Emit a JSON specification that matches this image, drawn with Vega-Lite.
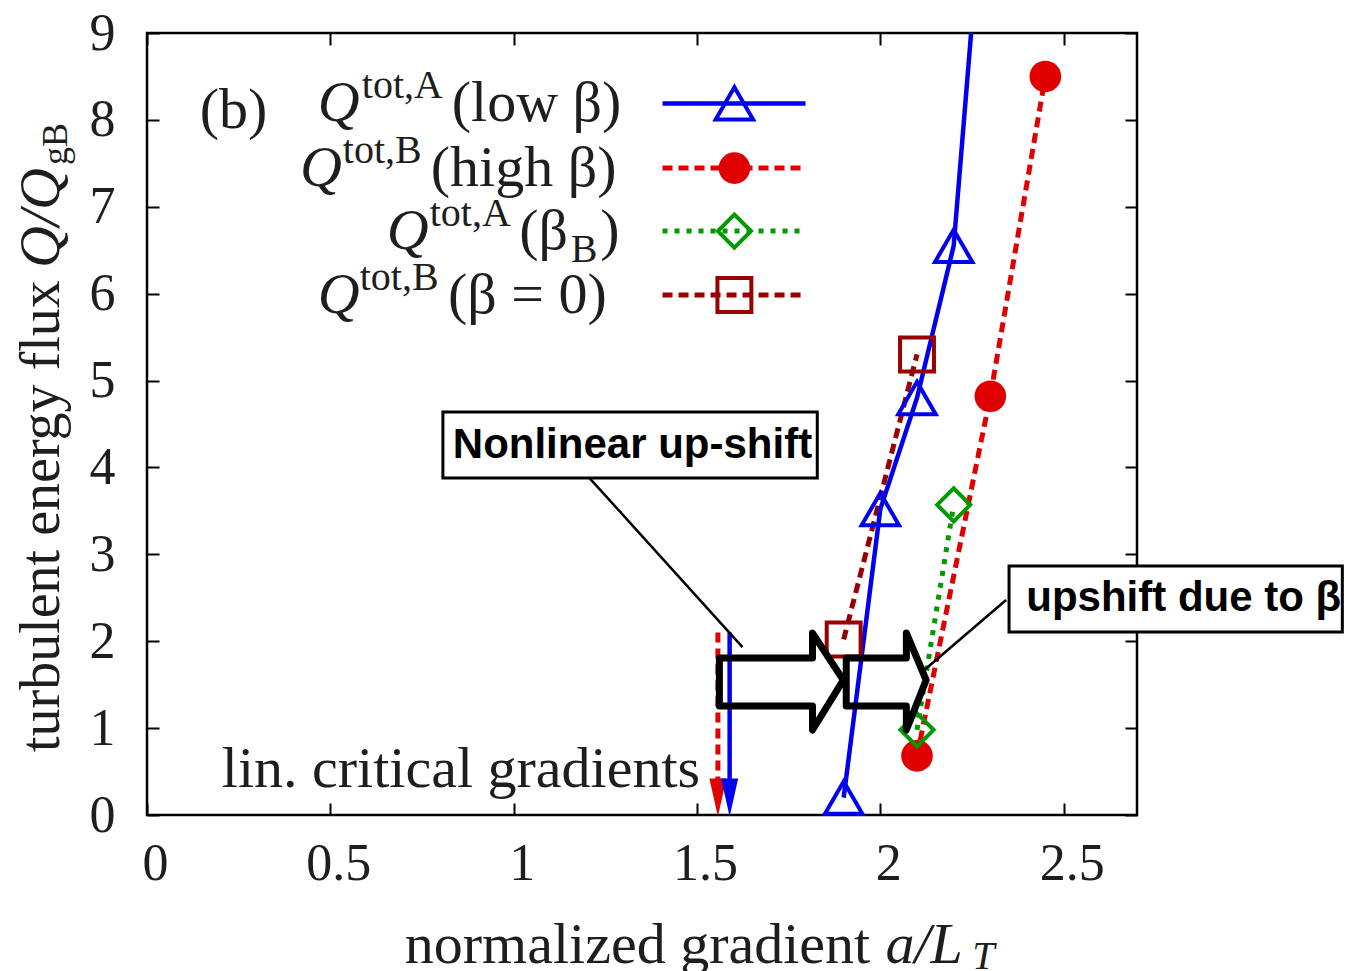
{
  "$schema": "https://vega.github.io/schema/vega-lite/v6.json",
  "width": 990,
  "height": 782,
  "autosize": {"type": "none"},
  "padding": {"left": 147, "top": 33, "right": 209, "bottom": 156},
  "background": "white",
  "config": {
    "view": {"stroke": "black", "strokeWidth": 2.5},
    "axis": {"grid": false, "domain": false, "tickColor": "black", "tickWidth": 2, "tickSize": -12, "labelFont": "Liberation Serif", "labelFontSize": 52, "labelColor": "#1e1e1e", "title": null, "labelFlush": false}
  },
  "datasets": {
    "series": [
      {"s": "A", "g": "data", "x": 1.9, "y": 0.2},
      {"s": "A", "g": "data", "x": 2.0, "y": 3.52},
      {"s": "A", "g": "data", "x": 2.1, "y": 4.8},
      {"s": "A", "g": "data", "x": 2.2, "y": 6.55},
      {"s": "A", "g": "data", "x": 2.3, "y": 11.7},
      {"s": "A", "g": "leg", "x": 1.406, "y": 8.19},
      {"s": "A", "g": "leg", "x": 1.602, "y": 8.19},
      {"s": "A", "g": "leg", "x": 1.796, "y": 8.19},
      {"s": "B", "g": "data", "x": 2.1, "y": 0.68},
      {"s": "B", "g": "data", "x": 2.3, "y": 4.82},
      {"s": "B", "g": "data", "x": 2.45, "y": 8.5},
      {"s": "B", "g": "leg", "x": 1.406, "y": 7.445},
      {"s": "B", "g": "leg", "x": 1.602, "y": 7.445},
      {"s": "B", "g": "leg", "x": 1.796, "y": 7.445},
      {"s": "Ab", "g": "data", "x": 2.1, "y": 0.98},
      {"s": "Ab", "g": "data", "x": 2.2, "y": 3.57},
      {"s": "Ab", "g": "leg", "x": 1.406, "y": 6.72},
      {"s": "Ab", "g": "leg", "x": 1.602, "y": 6.72},
      {"s": "Ab", "g": "leg", "x": 1.796, "y": 6.72},
      {"s": "B0", "g": "data", "x": 1.9, "y": 2.02},
      {"s": "B0", "g": "data", "x": 2.1, "y": 5.3},
      {"s": "B0", "g": "leg", "x": 1.406, "y": 5.984},
      {"s": "B0", "g": "leg", "x": 1.602, "y": 5.984},
      {"s": "B0", "g": "leg", "x": 1.796, "y": 5.984}
    ],
    "crit": [
      {"s": "red", "x": 1.557, "y": 2.1},
      {"s": "red", "x": 1.557, "y": 0.2},
      {"s": "blue", "x": 1.589, "y": 2.1},
      {"s": "blue", "x": 1.589, "y": 0.2}
    ],
    "arrows": [
      {"g": 1, "o": 0, "x": 1.561, "y": 1.807},
      {"g": 1, "o": 1, "x": 1.815, "y": 1.807},
      {"g": 1, "o": 2, "x": 1.815, "y": 2.094},
      {"g": 1, "o": 3, "x": 1.899, "y": 1.553},
      {"g": 1, "o": 4, "x": 1.815, "y": 0.978},
      {"g": 1, "o": 5, "x": 1.815, "y": 1.254},
      {"g": 1, "o": 6, "x": 1.561, "y": 1.254},
      {"g": 1, "o": 7, "x": 1.561, "y": 1.807},
      {"g": 2, "o": 0, "x": 1.907, "y": 1.807},
      {"g": 2, "o": 1, "x": 2.071, "y": 1.807},
      {"g": 2, "o": 2, "x": 2.071, "y": 2.094},
      {"g": 2, "o": 3, "x": 2.125, "y": 1.553},
      {"g": 2, "o": 4, "x": 2.071, "y": 0.978},
      {"g": 2, "o": 5, "x": 2.071, "y": 1.254},
      {"g": 2, "o": 6, "x": 1.907, "y": 1.254},
      {"g": 2, "o": 7, "x": 1.907, "y": 1.807}
    ],
    "links": [
      {"g": 1, "x": 1.207, "y": 3.878},
      {"g": 1, "x": 1.624, "y": 1.933},
      {"g": 2, "x": 2.343, "y": 2.474},
      {"g": 2, "x": 2.12, "y": 1.669}
    ],
    "boxes": [
      {"x": 0.807, "x2": 1.828, "y": 4.637, "y2": 3.878},
      {"x": 2.351, "x2": 3.26, "y": 2.865, "y2": 2.106}
    ],
    "txt": [
      {"k": "serifL", "x": 0.144, "y": 7.906, "t": "(b)"},
      {"k": "serifL", "x": 0.204, "y": 0.322, "t": "lin. critical gradients"},
      {"k": "serifL", "x": 0.703, "y": -1.703, "t": "normalized gradient"},
      {"k": "serifL", "x": 0.831, "y": 7.986, "t": "(low β)"},
      {"k": "serifL", "x": 0.774, "y": 7.238, "t": "(high β)"},
      {"k": "serifL", "x": 1.015, "y": 6.513, "t": "(β"},
      {"k": "serifL", "x": 1.236, "y": 6.513, "t": ")"},
      {"k": "serifL", "x": 0.821, "y": 5.777, "t": "(β = 0)"},
      {"k": "ital", "x": 0.466, "y": 7.986, "t": "Q"},
      {"k": "ital", "x": 0.417, "y": 7.238, "t": "Q"},
      {"k": "ital", "x": 0.654, "y": 6.513, "t": "Q"},
      {"k": "ital", "x": 0.466, "y": 5.777, "t": "Q"},
      {"k": "ital", "x": 2.014, "y": -1.703, "t": "a/L"},
      {"k": "sup", "x": 0.586, "y": 8.251, "t": "tot,A"},
      {"k": "sup", "x": 0.534, "y": 7.503, "t": "tot,B"},
      {"k": "sup", "x": 0.771, "y": 6.778, "t": "tot,A"},
      {"k": "sup", "x": 0.58, "y": 6.041, "t": "tot,B"},
      {"k": "sup", "x": 1.156, "y": 6.364, "t": "B"},
      {"k": "italsub", "x": 2.251, "y": -1.772, "t": "T"},
      {"k": "bold", "x": 0.834, "y": 4.108, "t": "Nonlinear up-shift"},
      {"k": "bold", "x": 2.398, "y": 2.347, "t": "upshift due to β"},
      {"k": "rot", "x": -0.286, "y": 0.725, "t": "turbulent energy flux"},
      {"k": "rotital", "x": -0.286, "y": 6.295, "t": "Q/Q"},
      {"k": "rotsub", "x": -0.248, "y": 7.48, "t": "gB"}
    ]
  },
  "encoding": {
    "x": {"field": "x", "type": "quantitative", "scale": {"domain": [0, 2.7], "nice": false, "zero": false}, "axis": null},
    "y": {"field": "y", "type": "quantitative", "scale": {"domain": [0, 9], "nice": false, "zero": false}, "axis": null}
  },
  "resolve": {"axis": {"x": "independent", "y": "independent"}},
  "layer": [
    {
      "data": {"name": "series"},
      "mark": {"type": "point", "opacity": 0},
      "encoding": {
        "x": {"field": "x", "type": "quantitative", "scale": {"domain": [0, 2.7], "nice": false, "zero": false}, "axis": {"orient": "bottom", "values": [0, 0.5, 1, 1.5, 2, 2.5], "format": "~g", "labelPadding": 35, "labelOffset": 8}},
        "y": {"field": "y", "type": "quantitative", "scale": {"domain": [0, 9], "nice": false, "zero": false}, "axis": {"orient": "left", "values": [0, 1, 2, 3, 4, 5, 6, 7, 8, 9], "labelPadding": 44}}
      }
    },
    {
      "data": {"name": "series"},
      "mark": {"type": "point", "opacity": 0},
      "encoding": {
        "x": {"field": "x", "type": "quantitative", "scale": {"domain": [0, 2.7], "nice": false, "zero": false}, "axis": {"orient": "top", "values": [0, 0.5, 1, 1.5, 2, 2.5], "labels": false}},
        "y": {"field": "y", "type": "quantitative", "scale": {"domain": [0, 9], "nice": false, "zero": false}, "axis": {"orient": "right", "values": [0, 1, 2, 3, 4, 5, 6, 7, 8, 9], "labels": false}}
      }
    },
    {
      "data": {"name": "crit"},
      "transform": [{"filter": "datum.s == 'red'"}],
      "mark": {"type": "line", "color": "#e00000", "strokeWidth": 5, "strokeDash": [10, 6]},
      "encoding": {}
    },
    {
      "data": {"name": "crit"},
      "transform": [{"filter": "datum.s == 'blue'"}],
      "mark": {"type": "line", "color": "#0000ee", "strokeWidth": 4.5},
      "encoding": {}
    },
    {
      "data": {"name": "crit"},
      "transform": [{"filter": "datum.y < 1"}],
      "mark": {"type": "point", "shape": "M-0.45,-1L0.45,-1L0,1Z", "size": 1444, "filled": true, "opacity": 1},
      "encoding": {"color": {"field": "s", "type": "nominal", "scale": {"domain": ["red", "blue"], "range": ["#e00000", "#0000ee"]}, "legend": null}}
    },
    {
      "data": {"name": "series"},
      "transform": [{"filter": "datum.s == 'B0'"}],
      "mark": {"type": "line", "color": "#990000", "strokeWidth": 5, "strokeDash": [10, 6], "clip": true},
      "encoding": {"detail": {"field": "g"}}
    },
    {
      "data": {"name": "series"},
      "transform": [{"filter": "datum.s == 'A'"}],
      "mark": {"type": "line", "color": "#0000ee", "strokeWidth": 4.5, "clip": true},
      "encoding": {"detail": {"field": "g"}}
    },
    {
      "data": {"name": "series"},
      "transform": [{"filter": "datum.s == 'Ab'"}],
      "mark": {"type": "line", "color": "#009a00", "strokeWidth": 5, "strokeDash": [5, 7], "clip": true},
      "encoding": {"detail": {"field": "g"}}
    },
    {
      "data": {"name": "series"},
      "transform": [{"filter": "datum.s == 'B'"}],
      "mark": {"type": "line", "color": "#e00000", "strokeWidth": 5, "strokeDash": [10, 6], "clip": true},
      "encoding": {"detail": {"field": "g"}}
    },
    {
      "data": {"name": "series"},
      "transform": [{"filter": "datum.s == 'A' && datum.y <= 9 && (datum.g == 'data' || (datum.x > 1.5 && datum.x < 1.7))"}],
      "mark": {"type": "point", "shape": "triangle-up", "size": 1400, "filled": false, "color": "#0000ee", "strokeWidth": 4, "opacity": 1},
      "encoding": {}
    },
    {
      "data": {"name": "series"},
      "transform": [{"filter": "datum.s == 'B' && (datum.g == 'data' || (datum.x > 1.5 && datum.x < 1.7))"}],
      "mark": {"type": "point", "shape": "circle", "size": 1000, "filled": true, "color": "#e00000", "opacity": 1},
      "encoding": {}
    },
    {
      "data": {"name": "series"},
      "transform": [{"filter": "datum.s == 'Ab' && (datum.g == 'data' || (datum.x > 1.5 && datum.x < 1.7))"}],
      "mark": {"type": "point", "shape": "diamond", "size": 1100, "filled": false, "color": "#009a00", "strokeWidth": 4, "opacity": 1},
      "encoding": {}
    },
    {
      "data": {"name": "series"},
      "transform": [{"filter": "datum.s == 'B0' && (datum.g == 'data' || (datum.x > 1.5 && datum.x < 1.7))"}],
      "mark": {"type": "point", "shape": "square", "size": 1150, "filled": false, "color": "#990000", "strokeWidth": 4, "opacity": 1},
      "encoding": {}
    },
    {
      "data": {"name": "arrows"},
      "mark": {"type": "line", "color": "black", "strokeWidth": 7, "strokeJoin": "round", "strokeCap": "round"},
      "encoding": {"detail": {"field": "g"}, "order": {"field": "o", "type": "quantitative"}}
    },
    {
      "data": {"name": "links"},
      "mark": {"type": "line", "color": "black", "strokeWidth": 2.5},
      "encoding": {"detail": {"field": "g"}}
    },
    {
      "data": {"name": "boxes"},
      "mark": {"type": "rect", "fill": "white", "stroke": "black", "strokeWidth": 3},
      "encoding": {"x2": {"field": "x2"}, "y2": {"field": "y2"}}
    },
    {
      "data": {"name": "txt"},
      "transform": [{"filter": "datum.k == 'serifL'"}],
      "mark": {"type": "text", "font": "Liberation Serif", "fontSize": 58, "align": "left", "baseline": "alphabetic", "color": "#1e1e1e"},
      "encoding": {"text": {"field": "t"}}
    },
    {
      "data": {"name": "txt"},
      "transform": [{"filter": "datum.k == 'ital'"}],
      "mark": {"type": "text", "font": "Liberation Serif", "fontStyle": "italic", "fontSize": 58, "align": "left", "baseline": "alphabetic", "color": "#1e1e1e"},
      "encoding": {"text": {"field": "t"}}
    },
    {
      "data": {"name": "txt"},
      "transform": [{"filter": "datum.k == 'sup'"}],
      "mark": {"type": "text", "font": "Liberation Serif", "fontSize": 40, "align": "left", "baseline": "alphabetic", "color": "#1e1e1e"},
      "encoding": {"text": {"field": "t"}}
    },
    {
      "data": {"name": "txt"},
      "transform": [{"filter": "datum.k == 'italsub'"}],
      "mark": {"type": "text", "font": "Liberation Serif", "fontStyle": "italic", "fontSize": 40, "align": "left", "baseline": "alphabetic", "color": "#1e1e1e"},
      "encoding": {"text": {"field": "t"}}
    },
    {
      "data": {"name": "txt"},
      "transform": [{"filter": "datum.k == 'bold'"}],
      "mark": {"type": "text", "font": "Liberation Sans", "fontWeight": "bold", "fontSize": 42, "align": "left", "baseline": "alphabetic", "color": "black"},
      "encoding": {"text": {"field": "t"}}
    },
    {
      "data": {"name": "txt"},
      "transform": [{"filter": "datum.k == 'rot'"}],
      "mark": {"type": "text", "font": "Liberation Serif", "fontSize": 56, "align": "left", "baseline": "middle", "angle": 270, "color": "#1e1e1e"},
      "encoding": {"text": {"field": "t"}}
    },
    {
      "data": {"name": "txt"},
      "transform": [{"filter": "datum.k == 'rotital'"}],
      "mark": {"type": "text", "font": "Liberation Serif", "fontStyle": "italic", "fontSize": 58, "align": "left", "baseline": "middle", "angle": 270, "color": "#1e1e1e"},
      "encoding": {"text": {"field": "t"}}
    },
    {
      "data": {"name": "txt"},
      "transform": [{"filter": "datum.k == 'rotsub'"}],
      "mark": {"type": "text", "font": "Liberation Serif", "fontSize": 36, "align": "left", "baseline": "middle", "angle": 270, "color": "#1e1e1e"},
      "encoding": {"text": {"field": "t"}}
    }
  ]
}
